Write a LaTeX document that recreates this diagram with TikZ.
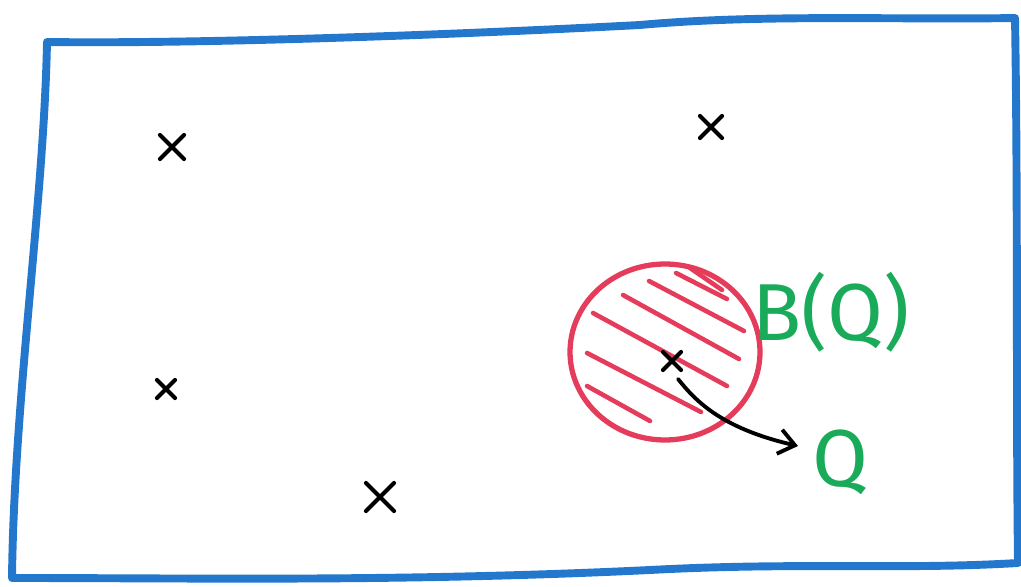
\documentclass[tikz,border=0pt]{standalone}
\usepackage{fontspec}
\setmainfont{Fira Sans}
\usetikzlibrary{arrows.meta,calc,shapes.geometric}
\definecolor{penblue}{RGB}{35,120,205}
\definecolor{penred}{RGB}{228,60,90}
\definecolor{pengreen}{RGB}{25,170,90}
\tikzset{
  frame/.style={draw=penblue,line width=4.5pt,line cap=round,line join=round},
  hatch/.style={draw=penred,line width=2.6pt,line cap=round},
  ball/.style={draw=penred,line width=3pt,ellipse,minimum width=3.8cm,minimum height=3.52cm,inner sep=0pt},
  xmark/.style={draw=black,line width=2.4pt,line cap=round},
  lbl/.style={text=pengreen,font=\fontsize{46}{46}\selectfont,inner sep=0pt},
  pt/.style={inner sep=0pt,minimum size=0pt}
}
\newcommand{\xcross}[2]{%
  \draw[xmark] ($(#1)+(-#2,-#2)$) -- ($(#1)+(#2,#2)$);
  \draw[xmark] ($(#1)+(-#2,#2)$) -- ($(#1)+(#2,-#2)$);}
\begin{document}
\begin{tikzpicture}[x=0.02cm,y=-0.02cm]
\useasboundingbox (0,0) rectangle (1021,587);
% frame
\draw[frame] (47,42) .. controls (200,44) and (450,35) .. (640,25)
  .. controls (760,14) and (900,20) .. (1015,18)
  .. controls (1018,200) and (1016,400) .. (1018,563)
  .. controls (900,570) and (800,562) .. (650,570)
  .. controls (400,582) and (200,578) .. (12,578)
  .. controls (14,400) and (44,200) .. (47,42) -- cycle;
% points
\node[pt] (p1) at (172,147) {};
\node[pt] (p2) at (711,127) {};
\node[pt] (p3) at (166,389) {};
\node[pt] (p4) at (380,497) {};
\node[pt] (q) at (672,361) {};
\xcross{p1}{12}
\xcross{p2}{11}
\xcross{p3}{9}
\xcross{p4}{14}
% ball
\node[ball] (b) at (665,352) {};
\draw[hatch] (690,268) -- (722,290);
\draw[hatch] (676,273) -- (727,299);
\draw[hatch] (649,281) -- (744,331);
\draw[hatch] (623,295) -- (739,359);
\draw[hatch] (593,313) -- (727,386);
\draw[hatch] (587,353) -- (701,412);
\draw[hatch] (587,386) -- (650,421);
\xcross{q}{9}
% labels
\node[lbl,anchor=west] (bq) at (752,312) {B(Q)};
\node[lbl,anchor=west] (ql) at (812,462) {Q};
\draw[draw=black,line width=2.2pt,line cap=round,-{Straight Barb[length=9pt,width=14pt]}]
  ($(q)+(6,18)$) .. controls (695,400) and (720,428) .. ($(ql.west)+(-14,-16)$);
\end{tikzpicture}
\end{document}
